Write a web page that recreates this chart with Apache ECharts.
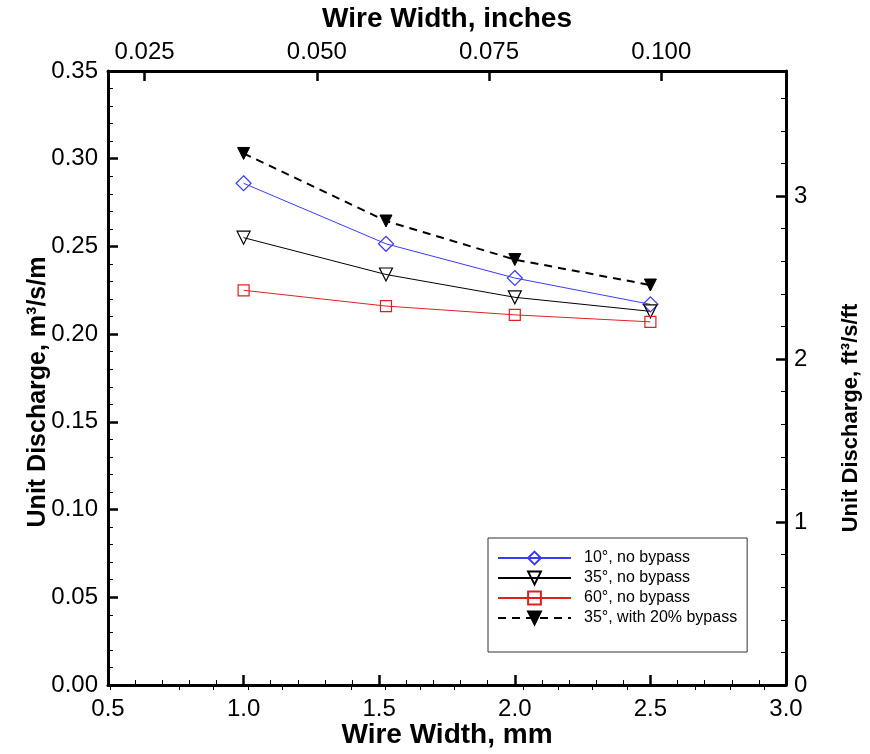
<!DOCTYPE html>
<html>
<head>
<meta charset="utf-8">
<script src="https://cdn.jsdelivr.net/npm/echarts@6/dist/echarts.min.js"></script>
<style>html,body{margin:0;padding:0;background:#fff}#c{width:870px;height:754px}</style>
</head>
<body>
<div id="c"></div>
<script>
// Data
const wireWidthMm = [1.0, 1.525, 2.0, 2.5];
const q10NoBypass = [0.286, 0.2515, 0.232, 0.217];
const q35NoBypass = [0.255, 0.234, 0.221, 0.213];
const q60NoBypass = [0.225, 0.216, 0.211, 0.207];
const q35Bypass20 = [0.303, 0.2645, 0.2425, 0.228];
const seriesNames = ['10°, no bypass', '35°, no bypass', '60°, no bypass', '35°, with 20% bypass'];

// Axis ranges and ticks
const mmMin = 0.5, mmMax = 3.0, mmInterval = 0.5;
const qMin = 0, qMax = 0.35, qInterval = 0.05;
const MM_PER_IN = 25.4;
const FT3_PER_M3_PER_M = 10.7639;
const inchMajorTicks = [0.025, 0.050, 0.075, 0.100];
const inchMinorTicks = [0.020, 0.030, 0.035, 0.040, 0.045, 0.055, 0.060, 0.065, 0.070, 0.080, 0.085, 0.090, 0.095, 0.105, 0.110, 0.115];
const ftMajorTicks = [0, 1, 2, 3];
const ftMinorTicks = [0.2, 0.4, 0.6, 0.8, 1.2, 1.4, 1.6, 1.8, 2.2, 2.4, 2.6, 2.8, 3.2, 3.4, 3.6];

const FONT = "'Liberation Sans', Arial, Helvetica, sans-serif";
const pair = (xs, ys) => xs.map((x, i) => [x, ys[i]]);

const axisLine = { show: true, onZero: false, lineStyle: { color: '#000', width: 3 } };
const labelStyle = { color: '#000', fontSize: 24, fontFamily: FONT };
const nameStyle = { color: '#000', fontSize: 28, fontWeight: 'bold', fontFamily: FONT };
const majorTick = { show: true, inside: true, length: 10, lineStyle: { color: '#000', width: 2.5 } };
const minorTick = { show: true, splitNumber: 5, length: 5, lineStyle: { color: '#000', width: 1 } };

const chart = echarts.init(document.getElementById('c'), null, { renderer: 'canvas' });
chart.setOption({
  animation: false,
  backgroundColor: '#fff',
  grid: { left: 108, right: 84, top: 70, bottom: 67, containLabel: false },
  xAxis: [
    {
      type: 'value', position: 'bottom', min: mmMin, max: mmMax, interval: mmInterval,
      name: 'Wire Width, mm', nameLocation: 'middle', nameGap: 36, nameMoveOverlap: false, nameTextStyle: nameStyle,
      axisLine, axisTick: majorTick, minorTick: Object.assign({}, minorTick),
      axisLabel: Object.assign({ margin: 12, formatter: v => v.toFixed(1) }, labelStyle),
      splitLine: { show: false }
    },
    {
      type: 'value', position: 'top', min: mmMin / MM_PER_IN, max: mmMax / MM_PER_IN,
      name: 'Wire Width, inches', nameLocation: 'middle', nameGap: 38, nameMoveOverlap: false, nameTextStyle: nameStyle,
      axisLine,
      axisTick: Object.assign({}, majorTick, { customValues: inchMajorTicks }),
      axisLabel: Object.assign({ margin: 7, customValues: inchMajorTicks, formatter: v => v.toFixed(3) }, labelStyle),
      splitLine: { show: false }
    },
    {
      type: 'value', position: 'top', min: mmMin / MM_PER_IN, max: mmMax / MM_PER_IN,
      axisLine: { show: false },
      axisTick: { show: true, inside: true, length: 5, customValues: inchMinorTicks, lineStyle: { color: '#000', width: 1 } },
      axisLabel: { show: false },
      splitLine: { show: false }
    }
  ],
  yAxis: [
    {
      type: 'value', position: 'left', min: qMin, max: qMax, interval: qInterval,
      name: 'Unit Discharge, m³/s/m', nameLocation: 'middle', nameGap: 57, nameMoveOverlap: false,
      nameTextStyle: Object.assign({}, nameStyle, { fontSize: 25, padding: [0, 28, 0, 0] }),
      axisLine, axisTick: majorTick, minorTick: Object.assign({}, minorTick),
      axisLabel: Object.assign({ margin: 10, formatter: v => v.toFixed(2) }, labelStyle),
      splitLine: { show: false }
    },
    {
      type: 'value', position: 'right', min: qMin * FT3_PER_M3_PER_M, max: qMax * FT3_PER_M3_PER_M,
      name: 'Unit Discharge, ft³/s/ft', nameLocation: 'middle', nameGap: 54, nameMoveOverlap: false,
      nameTextStyle: Object.assign({}, nameStyle, { fontSize: 22, padding: [0, 80, 0, 0] }),
      axisLine,
      axisTick: Object.assign({}, majorTick, { customValues: ftMajorTicks }),
      axisLabel: Object.assign({ margin: 8, customValues: ftMajorTicks, formatter: v => String(Math.round(v)) }, labelStyle),
      splitLine: { show: false }
    },
    {
      type: 'value', position: 'right', min: qMin * FT3_PER_M3_PER_M, max: qMax * FT3_PER_M3_PER_M,
      axisLine: { show: false },
      axisTick: { show: true, inside: true, length: 5, customValues: ftMinorTicks, lineStyle: { color: '#000', width: 1 } },
      axisLabel: { show: false },
      splitLine: { show: false }
    }
  ],
  legend: {
    orient: 'vertical', left: 488, top: 538,
    backgroundColor: '#fff', borderColor: '#333', borderWidth: 1,
    padding: [12, 10, 26, 9],
    itemWidth: 73, itemHeight: 16, itemGap: 4,
    textStyle: { color: '#000', fontSize: 16, fontFamily: FONT, padding: [0, 0, 0, 8] },
    data: seriesNames
  },
  series: [
    {
      name: seriesNames[0], type: 'line', data: pair(wireWidthMm, q10NoBypass),
      symbol: 'diamond', symbolSize: 15,
      itemStyle: { color: 'rgba(0,0,0,0)', borderColor: '#3b3bff', borderWidth: 1.2 },
      lineStyle: { color: '#3b3bff', width: 1 }, z: 3
    },
    {
      name: seriesNames[1], type: 'line', data: pair(wireWidthMm, q35NoBypass),
      symbol: 'triangle', symbolSize: 13, symbolRotate: 180,
      itemStyle: { color: 'rgba(0,0,0,0)', borderColor: '#000', borderWidth: 1.2 },
      lineStyle: { color: '#000', width: 1 }, z: 3
    },
    {
      name: seriesNames[2], type: 'line', data: pair(wireWidthMm, q60NoBypass),
      symbol: 'rect', symbolSize: 11,
      itemStyle: { color: 'rgba(0,0,0,0)', borderColor: '#e02020', borderWidth: 1.2 },
      lineStyle: { color: '#e02020', width: 1 }, z: 3
    },
    {
      name: seriesNames[3], type: 'line', data: pair(wireWidthMm, q35Bypass20),
      symbol: 'triangle', symbolSize: 12, symbolRotate: 180,
      itemStyle: { color: '#000', borderColor: '#000', borderWidth: 1 },
      lineStyle: { color: '#000', width: 2, type: [8, 6] }, z: 3
    }
  ]
});
</script>
</body>
</html>
